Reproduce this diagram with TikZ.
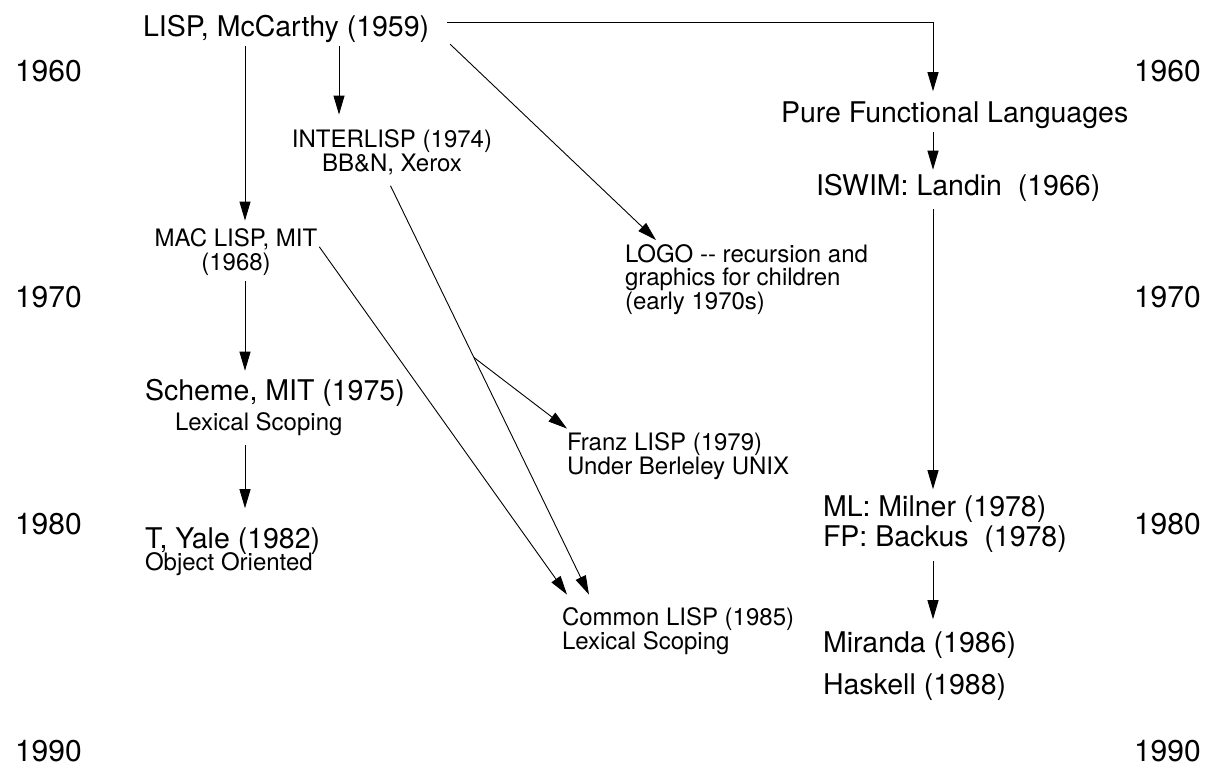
\documentclass[tikz,border=0pt]{standalone}
\usepackage{fontspec}
\setmainfont{TeX Gyre Heros}
\usetikzlibrary{calc,arrows.meta,positioning}

\begin{document}
\begin{tikzpicture}
    [x=1pt,y=-1pt,line width=0.9pt,
     every node/.style={inner sep=0pt,outer sep=4pt},
     big/.style={font=\fontsize{28.5}{30}\selectfont},
     small/.style={font=\fontsize{24}{23.5}\selectfont},
     yearlab/.style={font=\fontsize{30}{30}\selectfont,anchor=base west},
     arr/.style={-{Triangle[length=19pt,width=11pt]}}]
    \useasboundingbox (0,0) rectangle (1206,766);
    \coordinate (lcol) at (245,0);
    \coordinate (icol) at (339,0);
    \coordinate (rcol) at (933,0);

    \foreach \yr [count=\i from 0] in {1960,1970,1980,1990} {
      \node[yearlab] (yl\yr) at (11,81+226.7*\i) {\yr};
      \node[yearlab] (yr\yr) at (1130,81+226.7*\i) {\yr};
    }

    \node[big,anchor=base west] (lisp) at (139,36) {LISP, McCarthy (1959)};
    \node[small,align=center,anchor=base] (inter) at (392,171)
      {INTERLISP (1974)\\BB\&N, Xerox};
    \node[small,align=center,anchor=base] (mac) at (236,270)
      {MAC LISP, MIT\\(1968)};
    \node[big,align=left,anchor=base west] (scheme) at (141,430)
      {Scheme, MIT (1975)\\\hspace*{30pt}{\fontsize{24}{23.5}\selectfont Lexical Scoping}};
    \node[big,align=left,anchor=base west] (tyale) at (141,570)
      {T, Yale (1982)\\[-8pt]{\fontsize{24}{23.5}\selectfont Object Oriented}};
    \node[small,align=left,anchor=base west] (logo) at (621,309)
      {LOGO -{}- recursion and\\graphics for children\\(early 1970s)};
    \node[small,align=left,anchor=base west] (franz) at (563,474)
      {Franz LISP (1979)\\Under Berleley UNIX};
    \node[small,align=left,anchor=base west] (common) at (558,649)
      {Common LISP (1985)\\Lexical Scoping};
    \node[big,anchor=base west] (pure) at (777,122) {Pure Functional Languages};
    \node[big,anchor=base west] (iswim) at (812,195) {ISWIM: Landin\ \ (1966)};
    \node[big,align=left,anchor=base west] (ml) at (819,546)
      {ML: Milner (1978)\\FP: Backus\ \ (1978)};
    \node[big,anchor=base west] (miranda) at (819,652) {Miranda (1986)};
    \node[big,anchor=base west] (haskell) at (819,694) {Haskell (1988)};

    \draw[arr,shorten >=4pt] (lisp.south -| lcol) -- (mac.north -| lcol);
    \draw[arr,shorten >=11pt] (lisp.south -| icol) -- (inter.north -| icol);
    \draw[arr] ([shift={(17pt,2pt)}]lisp.south east) -- ([xshift=35pt]logo.north west);
    \draw[arr,shorten >=6pt] ([shift={(14pt,6pt)}]lisp.east) -| (pure.north -| rcol);
    \draw[arr,shorten <=8pt] ([xshift=-5pt]inter.south) -- coordinate[pos=0.43] (fork)
      ([shift={(31pt,9pt)}]common.north west);
    \draw[arr] (fork) -- ([xshift=4pt]franz.north west);
    \draw[arr] ([shift={(-2pt,5pt)}]mac.east) -- ([shift={(9pt,9pt)}]common.north west);
    \draw[arr,shorten <=2pt,shorten >=4pt] (mac.south -| lcol) -- (scheme.north -| lcol);
    \draw[arr,shorten <=6pt,shorten >=15pt] (scheme.south -| lcol) -- (tyale.north -| lcol);
    \draw[arr] (pure.south -| rcol) -- (iswim.north -| rcol);
    \draw[arr,shorten <=4pt,shorten >=2pt] (iswim.south -| rcol) -- (ml.north -| rcol);
    \draw[arr,shorten <=5pt,shorten >=8pt] (ml.south -| rcol) -- (miranda.north -| rcol);
\end{tikzpicture}
\end{document}
